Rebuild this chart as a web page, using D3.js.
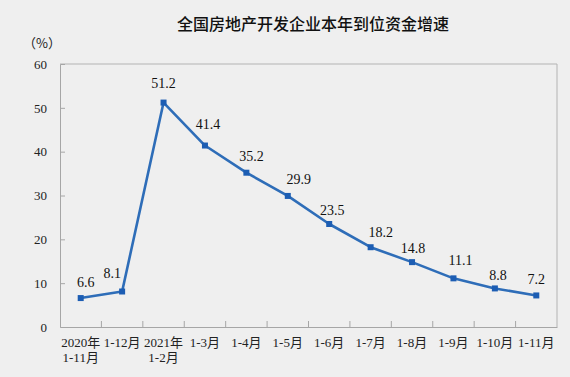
<!DOCTYPE html>
<html>
<head>
<meta charset="utf-8">
<script src="https://cdn.jsdelivr.net/npm/d3@7"></script>
<style>
  body { margin: 0; background: #efefef; }
  svg { display: block; }
</style>
</head>
<body>
<div id="chart"></div>
<script>
// 数据
var categories = ["2020年\n1-11月", "1-12月", "2021年\n1-2月", "1-3月", "1-4月", "1-5月",
                  "1-6月", "1-7月", "1-8月", "1-9月", "1-10月", "1-11月"];
var values = [6.6, 8.1, 51.2, 41.4, 35.2, 29.9, 23.5, 18.2, 14.8, 11.1, 8.8, 7.2];
var yTicks = [0, 10, 20, 30, 40, 50, 60];

// 标签偏移 (布局)
var labelDx = [5, -10, 0, 3, 5, 11, 3, 10, 1, 7, 3, 0];
var labelDy = [11, 13, 15, 17, 12, 12, 9, 10, 9, 13, 8, 11];

var W = 570, H = 377;
var margin = {top: 64, right: 13, bottom: 50, left: 60},
    width = W - margin.left - margin.right,
    height = H - margin.top - margin.bottom;

var serif = "'Liberation Serif', 'Times New Roman', 'Noto Sans CJK SC', serif";

var svg = d3.select("#chart")
  .append("svg")
    .attr("width", W)
    .attr("height", H);

svg.append("rect")
  .attr("width", W).attr("height", H)
  .attr("fill", "#efefef");

// 标题
svg.append("text")
  .attr("x", 313)
  .attr("y", 30)
  .attr("text-anchor", "middle")
  .attr("font-family", "'Noto Sans CJK SC', sans-serif")
  .attr("font-size", 16)
  .attr("font-weight", 500)
  .attr("fill", "#111")
  .text("全国房地产开发企业本年到位资金增速");

svg.append("text")
  .attr("x", 42)
  .attr("y", 48)
  .attr("text-anchor", "middle")
  .attr("font-family", "'Noto Sans CJK SC', sans-serif")
  .attr("font-size", 13)
  .attr("fill", "#222")
  .text("（%）");

var g = svg.append("g")
  .attr("transform", "translate(" + margin.left + "," + margin.top + ")");

var x = d3.scaleBand()
  .domain(categories)
  .range([0, width]);

var y = d3.scaleLinear()
  .domain([0, 60])
  .range([height, 0]);

// 边框 (上, 右)
g.append("path")
  .attr("d", "M0,0H" + width + "V" + height)
  .attr("fill", "none")
  .attr("stroke", "#b3b3b3")
  .attr("stroke-width", 1);

// Y 轴
var yAxis = g.append("g")
  .call(d3.axisLeft(y).tickValues(yTicks).tickSize(-5).tickPadding(13));
yAxis.select(".domain").attr("stroke", "#a6a6a6");
yAxis.selectAll(".tick line").attr("stroke", "#a6a6a6")
  .style("display", function(d) { return d === 0 || d === 60 ? "none" : null; });
yAxis.selectAll(".tick text")
  .attr("font-family", serif)
  .attr("font-size", 13)
  .attr("fill", "#222");

// X 轴
var xAxis = g.append("g")
  .attr("transform", "translate(0," + height + ")")
  .call(d3.axisBottom(x).tickSize(0).tickPadding(0));
xAxis.select(".domain").attr("stroke", "#a6a6a6");
xAxis.selectAll(".tick text").remove();
xAxis.selectAll(".tick").each(function(d, i) {
  var t = d3.select(this);
  if (i > 0) {
    t.append("line")
      .attr("x1", -x.bandwidth() / 2).attr("x2", -x.bandwidth() / 2)
      .attr("y1", 0).attr("y2", -6)
      .attr("stroke", "#a6a6a6");
  }
  var lines = d.split("\n");
  var txt = t.append("text")
    .attr("text-anchor", "middle")
    .attr("font-family", serif)
    .attr("font-size", 13)
    .attr("fill", "#222");
  lines.forEach(function(l, j) {
    txt.append("tspan").attr("x", 0).attr("y", 20 + j * 15).text(l);
  });
});

var pts = categories.map(function(c, i) { return {c: c, v: values[i], i: i}; });

// 折线
g.append("path")
  .datum(pts)
  .attr("fill", "none")
  .attr("stroke", "#2e6db8")
  .attr("stroke-width", 2.6)
  .attr("stroke-linejoin", "round")
  .attr("d", d3.line()
    .x(function(d) { return x(d.c) + x.bandwidth() / 2; })
    .y(function(d) { return y(d.v); }));

// 数据点
g.selectAll(".pt")
  .data(pts)
  .enter().append("rect")
  .attr("class", "pt")
  .attr("x", function(d) { return x(d.c) + x.bandwidth() / 2 - 3; })
  .attr("y", function(d) { return y(d.v) - 3; })
  .attr("width", 6).attr("height", 6)
  .attr("fill", "#1c5db3");

// 数据标签
g.selectAll(".lbl")
  .data(pts)
  .enter().append("text")
  .attr("class", "lbl")
  .attr("x", function(d) { return x(d.c) + x.bandwidth() / 2 + labelDx[d.i]; })
  .attr("y", function(d) { return y(d.v) - labelDy[d.i]; })
  .attr("text-anchor", "middle")
  .attr("font-family", serif)
  .attr("font-size", 14)
  .attr("fill", "#111")
  .text(function(d) { return d.v.toFixed(1); });
</script>
</body>
</html>
